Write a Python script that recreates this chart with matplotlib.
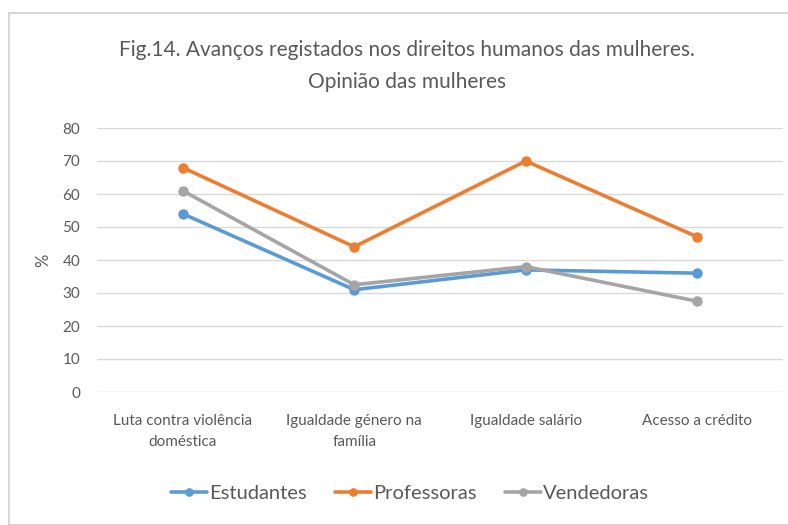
import matplotlib
matplotlib.use("Agg")
import matplotlib.pyplot as plt
from matplotlib.patches import Rectangle

categories = ["Luta contra violência\ndoméstica", "Igualdade género na\nfamília", "Igualdade salário", "Acesso a crédito"]
estudantes = [54, 31, 37, 36]
professoras = [68, 44, 70, 47]
vendedoras = [61, 32.5, 38, 27.5]
yticks = [0, 10, 20, 30, 40, 50, 60, 70, 80]
title = "Fig.14. Avanços registados nos direitos humanos das mulheres.\nOpinião das mulheres"

plt.rcParams['font.family'] = ['Lato', 'DejaVu Sans']
W, H = 788, 525
fig = plt.figure(figsize=(W/100, H/100), dpi=100)
fig.patch.set_facecolor('white')
fig.patches.append(Rectangle((9/W, 0), 1, 1 - 13/H, transform=fig.transFigure,
                             fill=False, edgecolor='#d0d0d0', linewidth=1.2))

ax = fig.add_axes([97/W, 1 - 392/H, (783-97)/W, (392-128)/H])
x = list(range(len(categories)))
series = [("Estudantes", estudantes, '#5B9BD5'),
          ("Professoras", professoras, '#ED7D31'),
          ("Vendedoras", vendedoras, '#A5A5A5')]
for name, vals, c in series:
    ax.plot(x, vals, color=c, lw=2.6, marker='o', ms=6.5, label=name, solid_capstyle='round')

ax.set_xlim(-0.5, len(categories) - 0.5)
ax.set_ylim(0, 80)
ax.set_yticks(yticks)
ax.set_xticks(x)
ax.set_xticklabels(categories, linespacing=1.6)
ax.grid(axis='y', color='#d9d9d9', lw=1)
ax.set_axisbelow(True)
for s in ax.spines.values():
    s.set_visible(False)
ax.tick_params(length=0, colors='#595959', labelsize=11)
ax.tick_params(axis='x', pad=16)
ax.tick_params(axis='y', pad=12)
ax.set_ylabel('%', color='#595959', fontsize=12, labelpad=8)

fig.text(407/W, 1 - 66/H, title, ha='center', va='center',
         fontsize=15, color='#595959', linespacing=1.8)

leg = fig.legend(loc='center', bbox_to_anchor=(410/W, 1 - 493/H), ncol=3, frameon=False,
                 fontsize=14.5, handlelength=1.8, columnspacing=1.4, handletextpad=0.1,
                 labelcolor='#595959', markerscale=0.8)

fig.savefig('out.png', dpi=100)
